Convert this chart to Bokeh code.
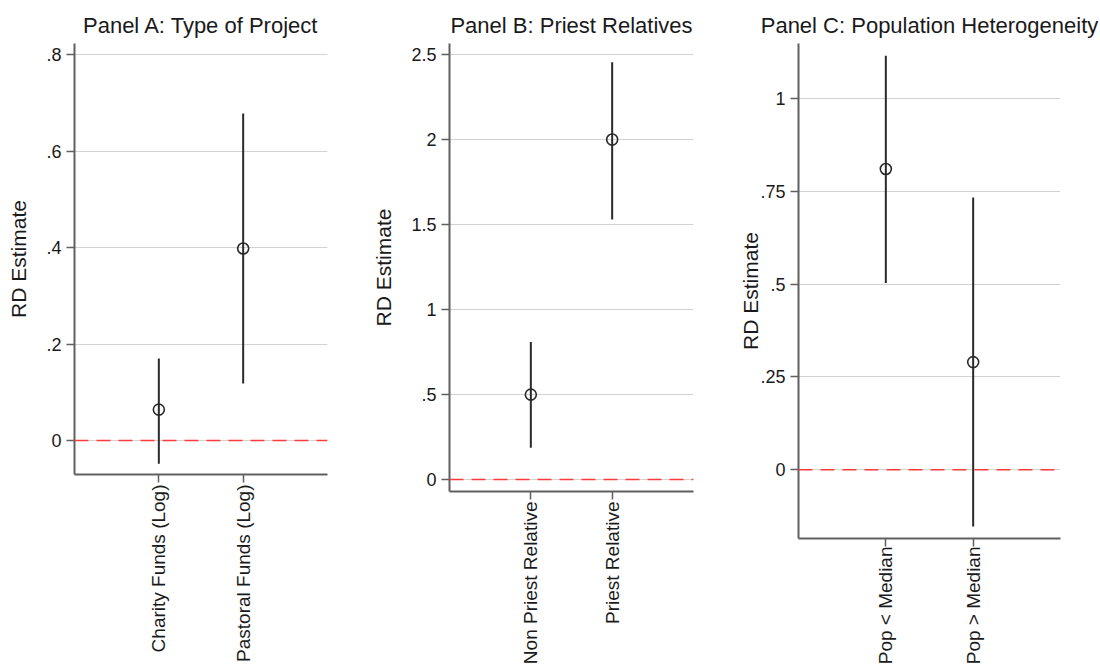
from bokeh.plotting import figure
from bokeh.models import FixedTicker, CustomJSTickFormatter, Span, Range1d
from bokeh.embed import file_html
from bokeh.resources import INLINE

FONT = "Liberation Sans"

# ---------------- data ----------------
positions = [1, 2]

a_title = "Panel A: Type of Project"
a_labels = ["Charity Funds (Log)", "Pastoral Funds (Log)"]
a_est = [0.064, 0.398]
a_lo = [-0.048, 0.118]
a_hi = [0.170, 0.678]
a_yticks = [0, 0.2, 0.4, 0.6, 0.8]
a_yrange = (-0.0705, 0.823)

b_title = "Panel B: Priest Relatives"
b_labels = ["Non Priest Relative", "Priest Relative"]
b_est = [0.50, 2.00]
b_lo = [0.188, 1.53]
b_hi = [0.81, 2.455]
b_yticks = [0, 0.5, 1, 1.5, 2, 2.5]
b_yrange = (-0.070, 2.565)

c_title = "Panel C: Population Heterogeneity"
c_labels = ["Pop < Median", "Pop > Median"]
c_est = [0.81, 0.29]
c_lo = [0.503, -0.153]
c_hi = [1.115, 0.733]
c_yticks = [0, 0.25, 0.5, 0.75, 1]
c_yrange = (-0.185, 1.148)

HEIGHT = 667
TOP = 43

fmt = CustomJSTickFormatter(code="""
var s = String(Math.round(tick*1000)/1000);
return s.replace(/^0\\./, '.').replace(/^-0\\./, '-.');
""")


def panel(title, labels, est, lo, hi, yticks, yrange, left, frame_w, right, frame_h,
          lab_standoff, xlab_standoff):
    p = figure(width=left + frame_w + right, height=HEIGHT,
               x_range=Range1d(0, 3), y_range=Range1d(*yrange),
               output_backend="svg", toolbar_location=None, title=title,
               min_border_left=left, min_border_right=right,
               min_border_top=TOP, min_border_bottom=HEIGHT - TOP - frame_h)
    p.outline_line_color = None
    p.background_fill_color = "white"
    p.border_fill_color = "white"

    p.title.text_font = FONT
    p.title.text_font_size = "22px"
    p.title.text_font_style = "normal"
    p.title.text_color = "#1a1a1a"
    p.title.align = "center"
    p.title.standoff = 11

    # grid
    p.xgrid.visible = False
    p.ygrid.grid_line_color = "#d2d2d2"
    p.ygrid.grid_line_width = 1
    p.ygrid.ticker = FixedTicker(ticks=yticks)

    # y axis
    ya = p.yaxis[0]
    ya.ticker = FixedTicker(ticks=yticks)
    ya.formatter = fmt
    ya.axis_label = "RD Estimate"
    ya.axis_label_text_font = FONT
    ya.axis_label_text_font_size = "21px"
    ya.axis_label_text_font_style = "normal"
    ya.axis_label_text_color = "#1a1a1a"
    ya.axis_label_standoff = lab_standoff
    ya.major_label_text_font = FONT
    ya.major_label_text_font_size = "18px"
    ya.major_label_text_color = "#1a1a1a"
    ya.major_label_standoff = 5
    ya.major_tick_out = 8
    ya.major_tick_in = 0
    ya.minor_tick_line_color = None
    ya.axis_line_color = "#606060"
    ya.axis_line_width = 2
    ya.major_tick_line_color = "#606060"
    ya.major_tick_line_width = 1.5

    # x axis
    xa = p.xaxis[0]
    xa.ticker = FixedTicker(ticks=positions)
    xa.major_label_overrides = {pos: lab for pos, lab in zip(positions, labels)}
    xa.major_label_orientation = 1.5707963267948966
    xa.major_label_text_font = FONT
    xa.major_label_text_font_size = "19px"
    xa.major_label_text_color = "#1a1a1a"
    xa.major_label_standoff = xlab_standoff
    xa.major_tick_out = 8
    xa.major_tick_in = 0
    xa.minor_tick_line_color = None
    xa.axis_line_color = "#606060"
    xa.axis_line_width = 2
    xa.major_tick_line_color = "#606060"
    xa.major_tick_line_width = 1.5

    zero = Span(location=0, dimension="width", line_color="#ff3b3b",
                line_width=1.5, line_dash="14 8")
    p.add_layout(zero)

    p.segment(x0=positions, y0=lo, x1=positions, y1=hi,
              line_color="#2a2a2a", line_width=2)
    p.scatter(x=positions, y=est, marker="circle", size=11,
              fill_color=None, line_color="#2a2a2a", line_width=1.6)
    return p


pA = panel(a_title, a_labels, a_est, a_lo, a_hi, a_yticks, a_yrange, 74, 253, 25, 431, 13, 2)
pB = panel(b_title, b_labels, b_est, b_lo, b_hi, b_yticks, b_yrange, 97, 244, 25, 449, 13, 2)
pC = panel(c_title, c_labels, c_est, c_lo, c_hi, c_yticks, c_yrange, 80, 262, 40, 496, -5, 0)

# three independent plots placed side by side (no frame alignment between them)
template = """
{% block postamble %}
<style>
  body { display: flex !important; flex-direction: row; align-items: flex-start; }
</style>
{% endblock %}
"""

with open("out.html", "w") as f:
    f.write(file_html([pA, pB, pC], INLINE, template=template))
